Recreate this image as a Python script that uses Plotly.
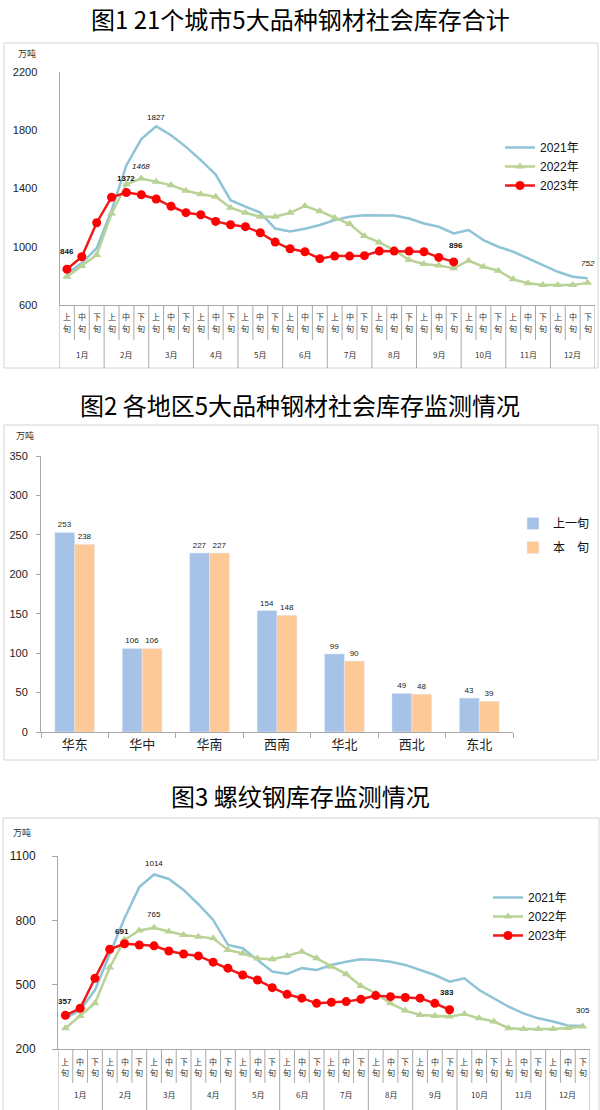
import plotly.graph_objects as go

# ---------------- data ----------------
months = ["1月", "2月", "3月", "4月", "5月", "6月", "7月", "8月", "9月", "10月", "11月", "12月"]
dekads = ["上旬", "中旬", "下旬"]

# Chart 1: 21 cities, 5 main steel products, social inventory total (万吨)
total_2021 = [815, 888, 990, 1250, 1560, 1739, 1827, 1766, 1686, 1595, 1496, 1320,
              1275, 1235, 1125, 1105, 1124, 1149, 1183, 1206, 1217, 1217, 1215, 1194,
              1160, 1137, 1092, 1115, 1046, 1000, 966, 920, 874, 828, 794, 783]
total_2022 = [794, 867, 943, 1229, 1430, 1468, 1447, 1423, 1385, 1360, 1343, 1268,
              1233, 1206, 1206, 1233, 1280, 1244, 1200, 1156, 1073, 1030, 977, 909,
              881, 872, 852, 904, 863, 835, 776, 749, 737, 737, 737, 752]
total_2023 = [846, 931, 1165, 1340, 1372, 1357, 1328, 1278, 1234, 1220, 1174, 1151,
              1138, 1096, 1032, 986, 966, 918, 936, 936, 939, 970, 970, 970,
              966, 927, 896]

# Chart 2: regional inventory (万吨)
regions = ["华东", "华中", "华南", "西南", "华北", "西北", "东北"]
prev_dekad = [253, 106, 227, 154, 99, 49, 43]
this_dekad = [238, 106, 227, 148, 90, 48, 39]

# Chart 3: rebar inventory (万吨)
rebar_2021 = [343, 382, 475, 640, 810, 955, 1014, 993, 942, 875, 802, 685,
              670, 615, 561, 550, 577, 569, 592, 607, 619, 615, 607, 592,
              569, 545, 514, 530, 475, 437, 397, 366, 343, 328, 310, 307]
rebar_2022 = [297, 354, 413, 580, 709, 753, 765, 748, 732, 724, 716, 662,
              645, 622, 619, 634, 654, 623, 584, 549, 494, 460, 413, 379,
              359, 354, 351, 363, 343, 328, 297, 293, 293, 293, 298, 305]
rebar_2023 = [357, 390, 530, 665, 691, 685, 681, 657, 643, 634, 605, 577,
              545, 522, 486, 455, 437, 413, 418, 421, 432, 449, 444, 440,
              437, 413, 383]

cats = [m + d for m in months for d in dekads]

# ---------------- style ----------------
W, H = 600, 1110
C21 = "#8FC3D6"
C22 = "#B9D295"
C23 = "#FF0000"
C23L = "#EE1A1A"
BLUE = "#A6C3E7"
ORANGE = "#FDCA97"
GRID = "#A8A8A8"
FRAME = "#D4D4D4"
CJK = "Noto Sans CJK SC"
NUM = "Liberation Sans"


def px_x(p):
    return p / W


def px_y(p):
    return 1 - p / H


fig = go.Figure()


def add_lines(xa, ya, d21, d22, d23, leg):
    fig.add_trace(go.Scatter(x=cats, y=d21, name="2021年", mode="lines",
                             line=dict(color=C21, width=2.5),
                             xaxis=xa, yaxis=ya, legend=leg, cliponaxis=False))
    fig.add_trace(go.Scatter(x=cats, y=d22, name="2022年", mode="lines+markers",
                             line=dict(color=C22, width=2.5),
                             marker=dict(symbol="triangle-up", size=8, color=C22),
                             xaxis=xa, yaxis=ya, legend=leg, cliponaxis=False))
    fig.add_trace(go.Scatter(x=cats[:len(d23)], y=d23, name="2023年", mode="lines+markers",
                             line=dict(color=C23L, width=2.5),
                             marker=dict(symbol="circle", size=9, color=C23),
                             xaxis=xa, yaxis=ya, legend=leg, cliponaxis=False))


add_lines("x", "y", total_2021, total_2022, total_2023, "legend")
add_lines("x3", "y3", rebar_2021, rebar_2022, rebar_2023, "legend3")

fig.add_trace(go.Bar(x=regions, y=prev_dekad, name="上一旬", marker_color=BLUE,
                     text=prev_dekad, textposition="outside",
                     textfont=dict(size=8, family=NUM, color="#222"),
                     xaxis="x2", yaxis="y2", legend="legend2", legendgroup="a",
                     cliponaxis=False))
fig.add_trace(go.Bar(x=regions, y=this_dekad, name="本\u3000旬", marker_color=ORANGE,
                     text=this_dekad, textposition="outside",
                     textfont=dict(size=8, family=NUM, color="#222"),
                     xaxis="x2", yaxis="y2", legend="legend2", legendgroup="b",
                     cliponaxis=False))

shapes = []
annotations = []

# frames
for (x0, y0, x1, y1) in [(4, 43, 598, 368), (4, 425, 598, 760), (3, 818, 599, 1120)]:
    shapes.append(dict(type="rect", xref="paper", yref="paper",
                       x0=px_x(x0), x1=px_x(x1), y0=px_y(y1), y1=px_y(y0),
                       line=dict(color=FRAME, width=1), fillcolor="rgba(0,0,0,0)"))


def category_table(xref, top, inner_bottom, bottom, inner_y1, inner_y2, month_y):
    for k in range(len(cats) + 1):
        yb = bottom if k % 3 == 0 else inner_bottom
        shapes.append(dict(type="line", xref=xref, yref="paper",
                           x0=k - 0.5, x1=k - 0.5, y0=px_y(top), y1=px_y(yb),
                           line=dict(color=GRID, width=1)))
    for i, c in enumerate(cats):
        d = dekads[i % 3]
        for ch, yy in ((d[0], inner_y1), (d[1], inner_y2)):
            annotations.append(dict(xref=xref, yref="paper", x=c, y=px_y(yy),
                                    xanchor="center", yanchor="middle",
                                    text=ch, showarrow=False,
                                    font=dict(size=8, family=CJK, color="#333")))
    for j, m in enumerate(months):
        annotations.append(dict(xref=xref, yref="paper", x=3 * j + 1, y=px_y(month_y),
                                xanchor="center", yanchor="middle",
                                text=m, showarrow=False,
                                font=dict(size=8, family=CJK, color="#333")))


category_table("x", 305, 340, 368, 317, 328, 354)
category_table("x3", 1049, 1083, 1115, 1061, 1072, 1094)

# titles
for txt, y in [("图1 21个城市5大品种钢材社会库存合计", 18.5),
               ("图2 各地区5大品种钢材社会库存监测情况", 404),
               ("图3 螺纹钢库存监测情况", 795)]:
    annotations.append(dict(xref="paper", yref="paper", x=0.5, y=px_y(y), text=txt,
                            xanchor="center", yanchor="middle", borderpad=0,
                            showarrow=False, font=dict(size=24, family=CJK, color="#000")))

# unit labels
for x, y in [(27, 54), (25, 435), (22, 832)]:
    annotations.append(dict(xref="paper", yref="paper", x=px_x(x), y=px_y(y), text="万吨",
                            xanchor="center", yanchor="middle",
                            showarrow=False, font=dict(size=9, family=CJK, color="#333")))


def data_label(xref, yref, idx, series, dx, dy, bold=False, italic=False, size=8):
    t = str(series[idx])
    if bold:
        t = "<b>" + t + "</b>"
    if italic:
        t = "<i>" + t + "</i>"
    annotations.append(dict(xref=xref, yref=yref, x=cats[idx], y=series[idx], text=t,
                            xanchor="center", yanchor="middle",
                            showarrow=False, xshift=dx, yshift=dy,
                            font=dict(size=size, family=NUM, color="#111")))


# chart 1 labels
data_label("x", "y", 6, total_2021, 0, 9)
data_label("x", "y", 5, total_2022, 0, 12, italic=True)
data_label("x", "y", 4, total_2023, 0, 14, bold=True)
data_label("x", "y", 0, total_2023, 0, 18, bold=True)
data_label("x", "y", 26, total_2023, 2, 16, bold=True)
data_label("x", "y", 35, total_2022, 0, 19, italic=True)

# chart 3 labels
data_label("x3", "y3", 6, rebar_2021, 0, 11)
data_label("x3", "y3", 6, rebar_2022, 0, 13)
data_label("x3", "y3", 4, rebar_2023, -3, 12, bold=True)
data_label("x3", "y3", 0, rebar_2023, 0, 14, bold=True)
data_label("x3", "y3", 26, rebar_2023, -3, 17, bold=True)
data_label("x3", "y3", 35, rebar_2022, 0, 16)

line_axis = dict(showline=True, linecolor=GRID, linewidth=1, showgrid=False,
                 zeroline=False, automargin=False)

leg_common = dict(xanchor="left", yanchor="top", bgcolor="rgba(255,255,255,0)",
                  borderwidth=0, itemwidth=30)

fig.update_layout(
    width=W, height=H,
    margin=dict(l=0, r=0, t=0, b=0, pad=0, autoexpand=False),
    paper_bgcolor="white", plot_bgcolor="white",
    showlegend=True,
    barmode="group", bargap=0.41, bargroupgap=0,
    shapes=shapes, annotations=annotations,
    xaxis=dict(domain=[px_x(59.5), px_x(595)], range=[-0.5, 35.5], type="category",
               categoryorder="array", categoryarray=cats,
               showticklabels=False, ticks="", anchor="y", **line_axis),
    yaxis=dict(domain=[px_y(305), px_y(72)], range=[600, 2200], dtick=400, tick0=600,
               ticks="", ticklabelstandoff=19,
               tickfont=dict(size=11, family=NUM, color="#222"),
               anchor="x", **line_axis),
    xaxis2=dict(domain=[px_x(41), px_x(513)], type="category", anchor="y2",
                ticks="outside", tickson="boundaries", ticklen=5, tickcolor=GRID,
                tickfont=dict(size=13, family=CJK, color="#222"), **line_axis),
    yaxis2=dict(domain=[px_y(732), px_y(456)], range=[0, 350], dtick=50, anchor="x2",
                ticks="outside", ticklen=4, tickcolor=GRID, ticklabelstandoff=6,
                tickfont=dict(size=11, family=NUM, color="#222"), **line_axis),
    xaxis3=dict(domain=[px_x(58), px_x(590)], range=[-0.5, 35.5], type="category",
                categoryorder="array", categoryarray=cats,
                showticklabels=False, ticks="", anchor="y3", **line_axis),
    yaxis3=dict(domain=[px_y(1049), px_y(856)], range=[200, 1100], dtick=300, tick0=200,
                ticks="outside", ticklen=5, tickcolor=GRID, ticklabelstandoff=14,
                tickfont=dict(size=12, family=NUM, color="#222"), anchor="x3", **line_axis),
    legend=dict(x=px_x(500), y=px_y(133), tracegroupgap=0,
                font=dict(size=12, family=NUM + ", " + CJK, color="#111"), **leg_common),
    legend3=dict(x=px_x(488), y=px_y(883), tracegroupgap=0,
                 font=dict(size=12, family=NUM + ", " + CJK, color="#111"), **leg_common),
    legend2=dict(x=px_x(513), y=px_y(509), tracegroupgap=5,
                 font=dict(size=12, family=CJK, color="#111"), **leg_common),
)

fig.write_html(
    "out.html",
    config={"displayModeBar": False},
    post_script="document.body.style.margin='0';document.body.style.padding='0';"
                "document.documentElement.style.overflow='hidden';",
)
